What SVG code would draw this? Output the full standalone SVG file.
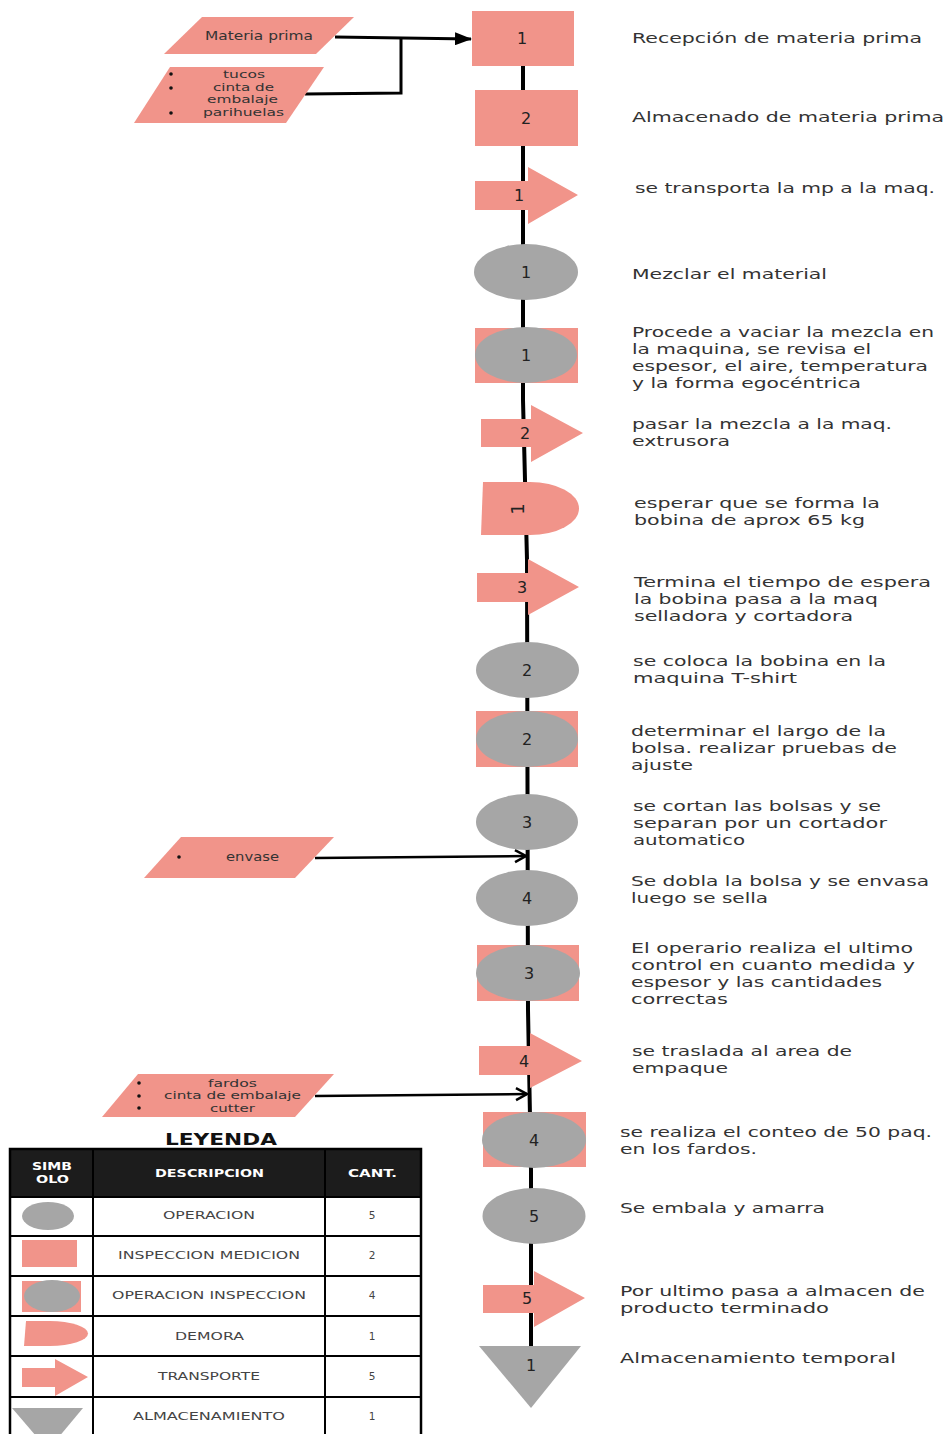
<svg xmlns="http://www.w3.org/2000/svg" width="948" height="1434" viewBox="0 0 948 1434">
<style>
.sal{fill:#F1948A}
.gry{fill:#A6A6A6}
.lbl{font-family:"DejaVu Sans","Open Sans",sans-serif;font-size:16px;fill:#222;text-anchor:middle}
.desc{font-family:"DejaVu Sans","Open Sans",sans-serif;font-size:14px;fill:#333}
.inp{font-family:"DejaVu Sans","Open Sans",sans-serif;font-size:10.5px;fill:#333}
.leg{font-family:"DejaVu Sans","Open Sans",sans-serif;font-size:10.5px;fill:#444}
.hdr{font-family:"DejaVu Sans","Open Sans",sans-serif;font-size:10.5px;font-weight:bold;fill:#fff}
.conn{fill:none;stroke:#000;stroke-width:3}
</style>
<defs>
<marker id="fillArrow" markerUnits="userSpaceOnUse" markerWidth="17" markerHeight="13" viewBox="0 0 17 13" refX="16" refY="6.5" orient="auto">
<path d="M0,0 L17,6.5 L0,13 Z" fill="#000"/>
</marker>
<marker id="openArrow" markerUnits="userSpaceOnUse" markerWidth="16" markerHeight="16" viewBox="0 0 16 16" refX="13" refY="8" orient="auto">
<path d="M2,2 L13,8 L2,14" fill="none" stroke="#000" stroke-width="2.5"/>
</marker>
</defs>
<rect width="948" height="1434" fill="#fff"/>

<g id="connectors">
<polyline class="conn" style="stroke-width:4" points="523,66 523,400 527,560 528,1010 531,1170 531,1346"/>
<path class="conn" d="M335,37 L471,39" marker-end="url(#fillArrow)"/>
<path class="conn" d="M305,94 L401,93 L401,37"/>
<path class="conn" style="stroke-width:2.5" d="M315,858 L526,856" marker-end="url(#openArrow)"/>
<path class="conn" style="stroke-width:2.5" d="M315,1096 L527,1094" marker-end="url(#openArrow)"/>
</g>

<g id="in-materia">
<polygon class="sal" points="202,17 354,17 316,54 164,54"/>
<text class="inp" x="205" y="40" textLength="108" lengthAdjust="spacingAndGlyphs" style="font-size:11.5px">Materia prima</text>
</g>
<g id="in-tucos">
<polygon class="sal" points="170,67 324,67 286,123 134,123"/>
<circle cx="171" cy="74" r="1.8" fill="#111"/>
<circle cx="171" cy="88" r="1.8" fill="#111"/>
<circle cx="171" cy="113" r="1.8" fill="#111"/>
<text class="inp" x="223" y="78" textLength="42" lengthAdjust="spacingAndGlyphs">tucos</text>
<text class="inp" x="213" y="90.5" textLength="61" lengthAdjust="spacingAndGlyphs">cinta de</text>
<text class="inp" x="207" y="103" textLength="71" lengthAdjust="spacingAndGlyphs">embalaje</text>
<text class="inp" x="203" y="115.5" textLength="81" lengthAdjust="spacingAndGlyphs">parihuelas</text>
</g>
<g id="in-envase">
<polygon class="sal" points="181,837 334,837 295,878 144,878"/>
<circle cx="179" cy="857" r="1.8" fill="#111"/>
<text class="inp" x="226" y="861" textLength="53" lengthAdjust="spacingAndGlyphs" style="font-size:11.5px">envase</text>
</g>
<g id="in-fardos">
<polygon class="sal" points="138,1074 334,1074 295,1117 102,1117"/>
<circle cx="139" cy="1083" r="1.8" fill="#111"/>
<circle cx="139" cy="1096" r="1.8" fill="#111"/>
<circle cx="139" cy="1108" r="1.8" fill="#111"/>
<text class="inp" x="208" y="1086.5" textLength="49" lengthAdjust="spacingAndGlyphs">fardos</text>
<text class="inp" x="164" y="1099" textLength="137" lengthAdjust="spacingAndGlyphs">cinta de embalaje</text>
<text class="inp" x="210" y="1111.5" textLength="45" lengthAdjust="spacingAndGlyphs">cutter</text>
</g>

<g id="n1"><rect class="sal" x="472" y="11" width="102" height="55"/><text class="lbl" x="522" y="44">1</text></g>
<g id="n2"><rect class="sal" x="475" y="90" width="103" height="56"/><text class="lbl" x="526" y="124">2</text></g>
<g id="n3"><path class="sal" d="M475,181 L528,181 L528,167 L578,195 L528,224 L528,210 L475,210 Z"/><text class="lbl" x="519" y="201">1</text></g>
<g id="n4"><ellipse class="gry" cx="526" cy="272" rx="52" ry="28"/><text class="lbl" x="526" y="278">1</text></g>
<g id="n5"><rect class="sal" x="475" y="328" width="103" height="55"/><ellipse class="gry" cx="526" cy="355" rx="51" ry="28"/><text class="lbl" x="526" y="361">1</text></g>
<g id="n6"><path class="sal" d="M481,419 L531,419 L531,405 L583,433 L531,462 L531,447 L481,447 Z"/><text class="lbl" x="525" y="439">2</text></g>
<g id="n7"><path class="sal" d="M483,482 L530,482 A49,26.5 0 0 1 530,535 L481,535 Z"/><text class="lbl" x="0" y="0" style="font-size:18px" transform="translate(524,509) rotate(-90)">1</text></g>
<g id="n8"><path class="sal" d="M477,573 L528,573 L528,559 L579,587 L528,615 L528,602 L477,602 Z"/><text class="lbl" x="522" y="593">3</text></g>
<g id="n9"><ellipse class="gry" cx="527.5" cy="670" rx="51.5" ry="28"/><text class="lbl" x="527" y="676">2</text></g>
<g id="n10"><rect class="sal" x="476" y="711" width="102" height="56"/><ellipse class="gry" cx="527" cy="739" rx="51" ry="28"/><text class="lbl" x="527" y="745">2</text></g>
<g id="n11"><ellipse class="gry" cx="527" cy="822" rx="51" ry="28"/><text class="lbl" x="527" y="828">3</text></g>
<g id="n12"><ellipse class="gry" cx="527" cy="898" rx="51" ry="28"/><text class="lbl" x="527" y="904">4</text></g>
<g id="n13"><rect class="sal" x="477" y="945" width="102" height="56"/><ellipse class="gry" cx="528" cy="973" rx="52" ry="28"/><text class="lbl" x="529" y="979">3</text></g>
<g id="n14"><path class="sal" d="M479,1046 L530,1046 L530,1033 L582,1061 L530,1088 L530,1075 L479,1075 Z"/><text class="lbl" x="524" y="1067">4</text></g>
<g id="n15"><rect class="sal" x="483" y="1112" width="103" height="55"/><ellipse class="gry" cx="534" cy="1140" rx="52" ry="28"/><text class="lbl" x="534" y="1146">4</text></g>
<g id="n16"><ellipse class="gry" cx="534" cy="1216" rx="51.5" ry="28"/><text class="lbl" x="534" y="1222">5</text></g>
<g id="n17"><path class="sal" d="M483,1285 L534,1285 L534,1271 L585,1298 L534,1327 L534,1313 L483,1313 Z"/><text class="lbl" x="527" y="1304">5</text></g>
<g id="n18"><polygon class="gry" points="479,1346 581,1346 531,1408"/><text class="lbl" x="531" y="1371">1</text></g>

<g id="descriptions">
<text class="desc" x="632" y="43" textLength="290" lengthAdjust="spacingAndGlyphs">Recepción de materia prima</text>
<text class="desc" x="632" y="122" textLength="312" lengthAdjust="spacingAndGlyphs">Almacenado de materia prima</text>
<text class="desc" x="635" y="193" textLength="300" lengthAdjust="spacingAndGlyphs">se transporta la mp a la maq.</text>
<text class="desc" x="632" y="279" textLength="195" lengthAdjust="spacingAndGlyphs">Mezclar el material</text>
<text class="desc" x="632" y="337" textLength="302" lengthAdjust="spacingAndGlyphs">Procede a vaciar la mezcla en</text>
<text class="desc" x="632" y="354" textLength="239" lengthAdjust="spacingAndGlyphs">la maquina, se revisa el</text>
<text class="desc" x="632" y="371" textLength="296" lengthAdjust="spacingAndGlyphs">espesor, el aire, temperatura</text>
<text class="desc" x="632" y="388" textLength="229" lengthAdjust="spacingAndGlyphs">y la forma egocéntrica</text>
<text class="desc" x="632" y="429" textLength="260" lengthAdjust="spacingAndGlyphs">pasar la mezcla a la maq.</text>
<text class="desc" x="632" y="446" textLength="98" lengthAdjust="spacingAndGlyphs">extrusora</text>
<text class="desc" x="634" y="508" textLength="246" lengthAdjust="spacingAndGlyphs">esperar que se forma la</text>
<text class="desc" x="634" y="525" textLength="231" lengthAdjust="spacingAndGlyphs">bobina de aprox 65 kg</text>
<text class="desc" x="634" y="587" textLength="297" lengthAdjust="spacingAndGlyphs">Termina el tiempo de espera</text>
<text class="desc" x="634" y="604" textLength="244" lengthAdjust="spacingAndGlyphs">la bobina pasa a la maq</text>
<text class="desc" x="634" y="621" textLength="219" lengthAdjust="spacingAndGlyphs">selladora y cortadora</text>
<text class="desc" x="633" y="666" textLength="253" lengthAdjust="spacingAndGlyphs">se coloca la bobina en la</text>
<text class="desc" x="633" y="683" textLength="164" lengthAdjust="spacingAndGlyphs">maquina T-shirt</text>
<text class="desc" x="631" y="736" textLength="255" lengthAdjust="spacingAndGlyphs">determinar el largo de la</text>
<text class="desc" x="631" y="753" textLength="266" lengthAdjust="spacingAndGlyphs">bolsa. realizar pruebas de</text>
<text class="desc" x="631" y="770" textLength="62" lengthAdjust="spacingAndGlyphs">ajuste</text>
<text class="desc" x="633" y="811" textLength="248" lengthAdjust="spacingAndGlyphs">se cortan las bolsas y se</text>
<text class="desc" x="633" y="828" textLength="254" lengthAdjust="spacingAndGlyphs">separan por un cortador</text>
<text class="desc" x="633" y="845" textLength="112" lengthAdjust="spacingAndGlyphs">automatico</text>
<text class="desc" x="631" y="886" textLength="298" lengthAdjust="spacingAndGlyphs">Se dobla la bolsa y se envasa</text>
<text class="desc" x="631" y="903" textLength="137" lengthAdjust="spacingAndGlyphs">luego se sella</text>
<text class="desc" x="631" y="953" textLength="282" lengthAdjust="spacingAndGlyphs">El operario realiza el ultimo</text>
<text class="desc" x="631" y="970" textLength="284" lengthAdjust="spacingAndGlyphs">control en cuanto medida y</text>
<text class="desc" x="631" y="987" textLength="251" lengthAdjust="spacingAndGlyphs">espesor y las cantidades</text>
<text class="desc" x="631" y="1004" textLength="97" lengthAdjust="spacingAndGlyphs">correctas</text>
<text class="desc" x="632" y="1056" textLength="220" lengthAdjust="spacingAndGlyphs">se traslada al area de</text>
<text class="desc" x="632" y="1073" textLength="96" lengthAdjust="spacingAndGlyphs">empaque</text>
<text class="desc" x="620" y="1137" textLength="312" lengthAdjust="spacingAndGlyphs">se realiza el conteo de 50 paq.</text>
<text class="desc" x="620" y="1154" textLength="137" lengthAdjust="spacingAndGlyphs">en los fardos.</text>
<text class="desc" x="620" y="1213" textLength="205" lengthAdjust="spacingAndGlyphs">Se embala y amarra</text>
<text class="desc" x="620" y="1296" textLength="305" lengthAdjust="spacingAndGlyphs">Por ultimo pasa a almacen de</text>
<text class="desc" x="620" y="1313" textLength="209" lengthAdjust="spacingAndGlyphs">producto terminado</text>
<text class="desc" x="620" y="1363" textLength="276" lengthAdjust="spacingAndGlyphs">Almacenamiento temporal</text>
</g>

<g id="legend">
<text x="165" y="1145" textLength="112" lengthAdjust="spacingAndGlyphs" style="font-family:'DejaVu Sans','Open Sans',sans-serif;font-size:15px;font-weight:bold;fill:#111">LEYENDA</text>
<rect x="10" y="1149" width="411" height="48" fill="#1c1c1c"/>
<rect x="10" y="1149" width="411" height="300" fill="none" stroke="#000" stroke-width="2.5"/>
<g stroke="#000" stroke-width="2">
<line x1="10" y1="1197" x2="421" y2="1197"/>
<line x1="10" y1="1236" x2="421" y2="1236"/>
<line x1="10" y1="1276" x2="421" y2="1276"/>
<line x1="10" y1="1316" x2="421" y2="1316"/>
<line x1="10" y1="1356" x2="421" y2="1356"/>
<line x1="10" y1="1397" x2="421" y2="1397"/>
<line x1="93" y1="1149" x2="93" y2="1434"/>
<line x1="325" y1="1149" x2="325" y2="1434"/>
</g>
<text class="hdr" x="32" y="1170" textLength="40" lengthAdjust="spacingAndGlyphs">SIMB</text>
<text class="hdr" x="36" y="1183" textLength="33" lengthAdjust="spacingAndGlyphs">OLO</text>
<text class="hdr" x="155" y="1177" textLength="109" lengthAdjust="spacingAndGlyphs">DESCRIPCION</text>
<text class="hdr" x="348" y="1177" textLength="49" lengthAdjust="spacingAndGlyphs">CANT.</text>

<ellipse class="gry" cx="48" cy="1216" rx="26" ry="14"/>
<rect class="sal" x="22" y="1240" width="55" height="27"/>
<rect class="sal" x="22" y="1281" width="59" height="31"/>
<ellipse class="gry" cx="52" cy="1296" rx="28" ry="16"/>
<path class="sal" d="M26,1321 L50,1321 A38,12.5 0 0 1 50,1346 L24,1346 Z"/>
<path class="sal" d="M22,1368 L55,1368 L55,1359 L88,1377 L55,1396 L55,1387 L22,1387 Z"/>
<polygon class="gry" points="12,1408 83,1408 48,1450"/>

<text class="leg" x="163" y="1219" textLength="92" lengthAdjust="spacingAndGlyphs">OPERACION</text>
<text class="leg" x="118" y="1259" textLength="182" lengthAdjust="spacingAndGlyphs">INSPECCION MEDICION</text>
<text class="leg" x="112" y="1299" textLength="194" lengthAdjust="spacingAndGlyphs">OPERACION INSPECCION</text>
<text class="leg" x="175" y="1340" textLength="69" lengthAdjust="spacingAndGlyphs">DEMORA</text>
<text class="leg" x="158" y="1380" textLength="102" lengthAdjust="spacingAndGlyphs">TRANSPORTE</text>
<text class="leg" x="133" y="1420" textLength="152" lengthAdjust="spacingAndGlyphs">ALMACENAMIENTO</text>
<g class="leg" style="text-anchor:middle">
<text x="372" y="1219">5</text>
<text x="372" y="1259">2</text>
<text x="372" y="1299">4</text>
<text x="372" y="1340">1</text>
<text x="372" y="1380">5</text>
<text x="372" y="1420">1</text>
</g>
</g>
</svg>
